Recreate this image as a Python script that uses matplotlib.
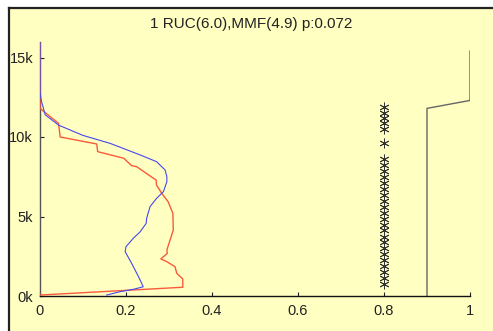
import matplotlib
matplotlib.use("Agg")
import matplotlib.pyplot as plt
from matplotlib.patches import Rectangle
from matplotlib.lines import Line2D

plt.rcParams['font.family'] = ['Liberation Sans', 'DejaVu Sans']

title = "1 RUC(6.0),MMF(4.9) p:0.072"

# red profile (value, height in m)
red_x = [0.0, 0.0, 0.0, 0.043, 0.047, 0.132, 0.134, 0.195, 0.213, 0.225, 0.264, 0.270,
         0.271, 0.283, 0.298, 0.309, 0.310, 0.295, 0.296, 0.281, 0.295, 0.314, 0.318,
         0.332, 0.332, 0.0]
red_y = [16000, 12500, 11800, 10860, 10000, 9560, 9080, 8660, 8200, 8130, 7400, 7300,
         6980, 6460, 5930, 5200, 4150, 2890, 2680, 2330, 2160, 1840, 1430,
         1070, 550, 60]

# blue profile
blue_x = [0.0, 0.0, 0.003, 0.012, 0.043, 0.100, 0.163, 0.233, 0.271, 0.287, 0.291, 0.295,
          0.295, 0.287, 0.271, 0.256, 0.248, 0.247, 0.233, 0.217, 0.200, 0.198, 0.213,
          0.225, 0.233, 0.240, 0.217, 0.186, 0.155]
blue_y = [16000, 12800, 12300, 11400, 10750, 10100, 9600, 8870, 8450, 8030, 7920, 7500,
          7190, 6560, 6140, 5620, 4890, 4570, 4040, 3630, 3100, 2790, 2060,
          1430, 1000, 580, 420, 270, 60]

# star markers at x = 0.8
star_x = 0.8
star_y = [750, 1120, 1500, 1870, 2250, 2620, 3000, 3370, 3740, 4120, 4490, 4870, 5240,
          5620, 5990, 6360, 6740, 7110, 7490, 7860, 8240, 8610, 9600, 10480, 10860,
          11180, 11530, 11900]

# gray step line
step_x = [0.9, 0.9, 1.0, 1.0]
step_y = [0, 11800, 12300, 15400]

xticks = [0, 0.2, 0.4, 0.6, 0.8, 1.0]
xtick_labels = ["0", "0.2", "0.4", "0.6", "0.8", "1"]
yticks = [0, 5000, 10000, 15000]
ytick_labels = ["0k", "5k", "10k", "15k"]

W, H = 493, 331
fig = plt.figure(figsize=(W / 100, H / 100), dpi=100)
fig.patch.set_facecolor('white')

# yellow panel with black top/left border
fig.patches.append(Rectangle((9 / W, 0), 1.0, 1 - 8 / H, transform=fig.transFigure,
                             facecolor='#ffffc2', edgecolor='none', zorder=-10))
fig.lines.append(Line2D([8.5 / W, 8.5 / W], [0, 1 - 7.5 / H], transform=fig.transFigure,
                        color='#222222', lw=1.6, zorder=-5))
fig.lines.append(Line2D([8.5 / W, 1.0], [1 - 7.5 / H, 1 - 7.5 / H], transform=fig.transFigure,
                        color='#222222', lw=1.6, zorder=-5))

ax = fig.add_axes([40 / W, 35 / H, 430 / W, 254.4 / H])
ax.set_facecolor('none')
ax.set_xlim(0, 1)
ax.set_ylim(0, 16000)

ax.plot(red_x, red_y, color='#f85a3c', lw=1.0, zorder=3)
ax.plot(blue_x, blue_y, color='#4848f0', lw=0.8, zorder=4)
ax.plot([star_x] * len(star_y), star_y, linestyle='none', marker=(6, 2, 0),
        markersize=7, markeredgewidth=0.6, color='#333333')
ax.plot(step_x, step_y, color='#666666', lw=1.0)

for s in ['top', 'right']:
    ax.spines[s].set_visible(False)
ax.spines['left'].set_color('#555555')
ax.spines['bottom'].set_color('#111111')
ax.spines['left'].set_linewidth(1.0)
ax.spines['bottom'].set_linewidth(1.0)

ax.set_xticks(xticks)
ax.set_xticklabels(xtick_labels)
ax.set_yticks(yticks)
ax.set_yticklabels(ytick_labels)
ax.tick_params(axis='both', direction='in', length=3, width=0.8, labelsize=10.5,
               colors='#222222')
ax.tick_params(axis='x', pad=6)
ax.tick_params(axis='y', pad=5)

fig.text(251 / W, 1 - 24 / H, title, ha='center', va='center', fontsize=11,
         color='#222222')

fig.savefig('out.png', dpi=100)
